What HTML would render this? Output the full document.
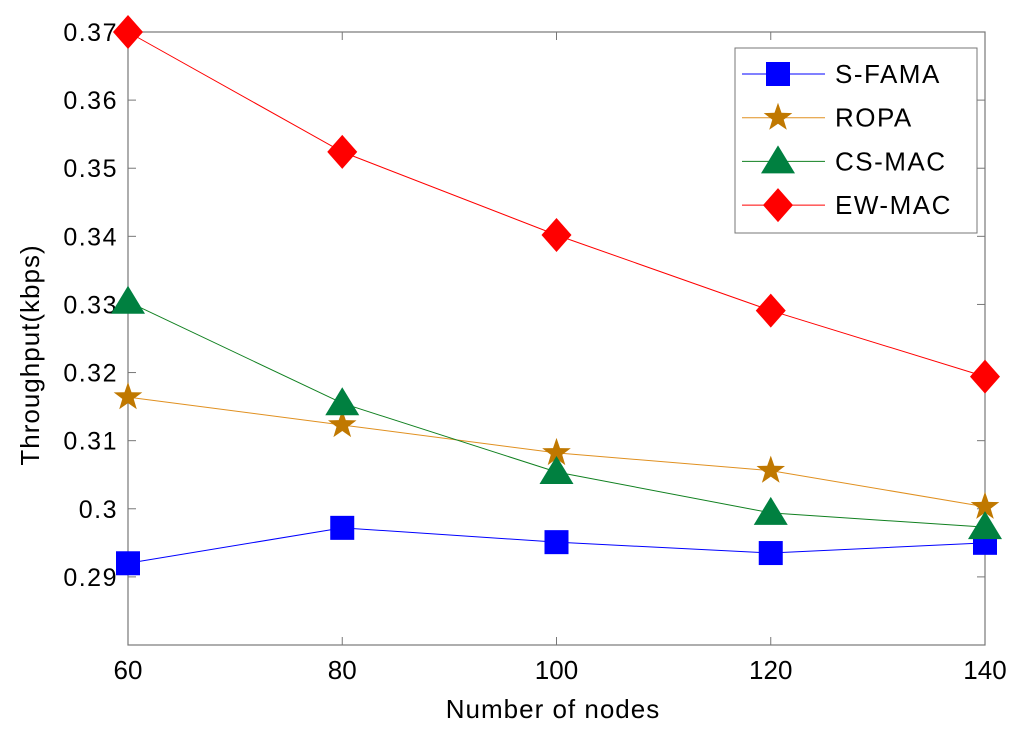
<!DOCTYPE html>
<html><head><meta charset="utf-8"><style>
body{margin:0;background:#fff}
svg text{font-family:"Liberation Sans",Arial,sans-serif;fill:#000}
</style></head><body>
<svg id="chart" width="1024" height="735">
<rect width="1024" height="735" fill="#fff"/>
<g id="axes"></g><g id="series"></g><g id="legend"></g>
</svg>
<script>
const categories=[60,80,100,120,140];
const sfama=[0.292,0.2972,0.2951,0.2935,0.295];
const ropa=[0.3164,0.3123,0.3082,0.3056,0.3003];
const csmac=[0.3304,0.3155,0.3054,0.2994,0.2973];
const ewmac=[0.37,0.3524,0.3402,0.3291,0.3194];
const yTicks=[0.29,0.3,0.31,0.32,0.33,0.34,0.35,0.36,0.37];
const yTickLabels=["0.29","0.3","0.31","0.32","0.33","0.34","0.35","0.36","0.37"];
const seriesNames=["S-FAMA","ROPA","CS-MAC","EW-MAC"];

const L=128,R=985,T=32,B=645,yMin=0.28,yMax=0.37,xMin=60,xMax=140;
const X=v=>L+(v-xMin)/(xMax-xMin)*(R-L);
const Y=v=>B-(v-yMin)/(yMax-yMin)*(B-T);
const NS="http://www.w3.org/2000/svg";
function mk(tag,attrs,parent){const e=document.createElementNS(NS,tag);for(const k in attrs)e.setAttribute(k,attrs[k]);parent.appendChild(e);return e;}
const axes=document.getElementById('axes'),ser=document.getElementById('series'),leg=document.getElementById('legend');

let f=mk('rect',{x:L,y:T,width:R-L,height:B-T,fill:'#fff',stroke:'#777','stroke-width':1.2},axes);


yTicks.forEach((v,i)=>{
  const y=Y(v);
  mk('line',{x1:L,y1:y,x2:L+8,y2:y,stroke:'#777'},axes);
  mk('line',{x1:R,y1:y,x2:R-8,y2:y,stroke:'#777'},axes);
  const t=mk('text',{x:L-10,y:y+9,'text-anchor':'end','font-size':25,'letter-spacing':1.5},axes);
  t.textContent=yTickLabels[i];
  
  
});
categories.forEach(c=>{
  const x=X(c);
  mk('line',{x1:x,y1:B,x2:x,y2:B-8,stroke:'#777'},axes);
  mk('line',{x1:x,y1:T,x2:x,y2:T+8,stroke:'#777'},axes);
  const t=mk('text',{x:x,y:679,'text-anchor':'middle','font-size':26},axes);
  t.textContent=c;
  
  
});
let xt=mk('text',{x:553,y:718,'text-anchor':'middle','font-size':26,'letter-spacing':1},axes);xt.textContent='Number of nodes';


let yt=mk('text',{x:0,y:0,'text-anchor':'middle','font-size':26,'letter-spacing':1,transform:'translate(39,355) rotate(-90)'},axes);yt.textContent='Throughput(kbps)';



function marker(type,x,y,color,parent){
  if(type==='square')return mk('rect',{x:x-12,y:y-12,width:24,height:24,fill:color},parent);
  if(type==='star'){let p=[];for(let i=0;i<10;i++){const r=i%2?6:15,a=-Math.PI/2+i*Math.PI/5;p.push((x+r*Math.cos(a)).toFixed(1)+','+(y+r*Math.sin(a)).toFixed(1));}return mk('polygon',{points:p.join(' '),fill:color},parent);}
  if(type==='tri')return mk('polygon',{points:`${x},${y-16} ${x+17},${y+12} ${x-17},${y+12}`,fill:color},parent);
  return mk('polygon',{points:`${x},${y-17} ${x+15},${y} ${x},${y+17} ${x-15},${y}`,fill:color},parent);
}
const defs=[[sfama,'#0000ff','#0000ff','square','series-s-fama'],[ropa,'#e09020','#c07800','star','series-ropa'],[csmac,'#108020','#008040','tri','series-cs-mac'],[ewmac,'#ff0000','#ff0000','diamond','series-ew-mac']];
let lb=mk('rect',{x:735,y:48,width:242,height:185,fill:'#fff',stroke:'#777'},leg);


defs.forEach((d,si)=>{
  const g=mk('g',{},ser);
  
  
  mk('polyline',{points:d[0].map((v,i)=>X(categories[i])+','+Y(v)).join(' '),fill:'none',stroke:d[1],'stroke-width':1},g);
  d[0].forEach((v,i)=>{const m=marker(d[3],X(categories[i]),Y(v),d[2],g);
    
    });
  const ly=74+si*43.7;
  const le=mk('g',{},leg);
  
  
  mk('line',{x1:742,y1:ly,x2:825,y2:ly,stroke:d[1]},le);
  marker(d[3],778,ly,d[2],le);
  const t=mk('text',{x:835,y:ly+9,'font-size':26,'letter-spacing':1.5},le);t.textContent=seriesNames[si];
});
</script>
</body></html>
